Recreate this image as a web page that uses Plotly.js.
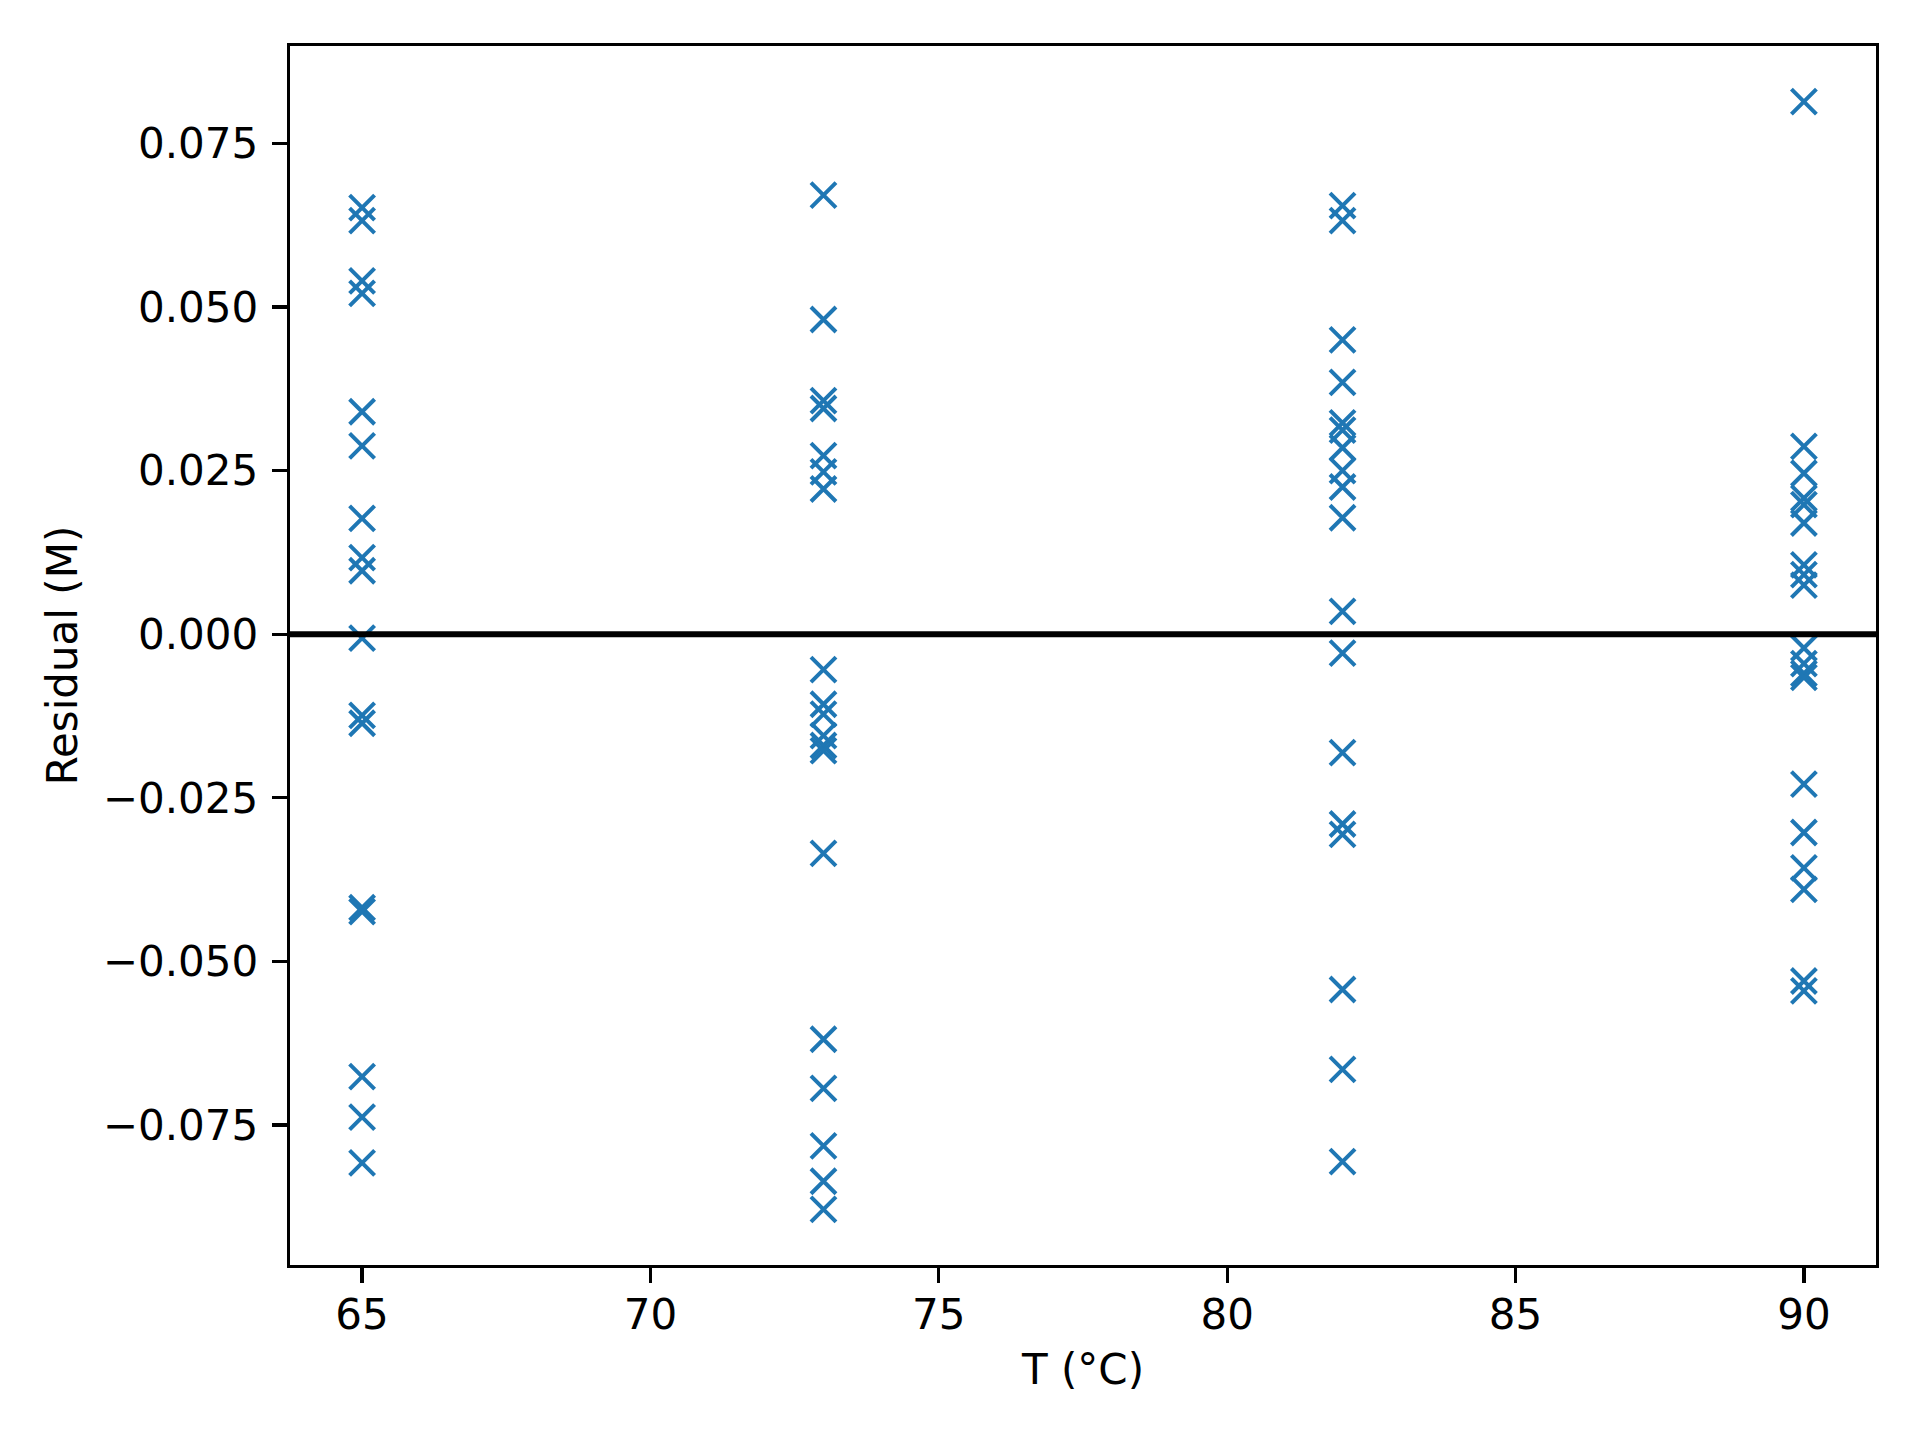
<!DOCTYPE html>
<html>
<head>
<meta charset="utf-8">
<script src="https://cdn.plot.ly/plotly-3.0.1.min.js"></script>
<style>
  html, body { margin: 0; padding: 0; background: #fff; }
</style>
</head>
<body>
<div id="chart"></div>
<script>
const temperatures = [65, 73, 82, 90]

const residuals65 = [0.0652, 0.0632, 0.0540, 0.0521, 0.0340, 0.0288, 0.0177, 0.0117, 0.0097, -0.0006,
  -0.0124, -0.0136, -0.0418, -0.0424, -0.0676, -0.0738, -0.0808]
const residuals73 = [0.0671, 0.0481, 0.0357, 0.0345, 0.0273, 0.0248, 0.0222, -0.0054, -0.0107, -0.0122,
  -0.0155, -0.0170, -0.0178, -0.0335, -0.0619, -0.0694, -0.0782, -0.0836, -0.0879]
const residuals82 = [0.0655, 0.0632, 0.0450, 0.0385, 0.0323, 0.0312, 0.0285, 0.0250, 0.0225, 0.0178,
  0.0035, -0.0029, -0.0181, -0.0290, -0.0306, -0.0543, -0.0665, -0.0806]
const residuals90 = [0.0814, 0.0287, 0.0246, 0.0208, 0.0198, 0.0170, 0.0106, 0.0091, 0.0075, -0.0021,
  -0.0045, -0.0060, -0.0066, -0.0229, -0.0303, -0.0357, -0.0390, -0.0530, -0.0545]

const xTickVals = [65, 70, 75, 80, 85, 90]
const xTickText = ['65', '70', '75', '80', '85', '90']
const yTickVals = [-0.075, -0.05, -0.025, 0, 0.025, 0.05, 0.075]
const yTickText = ['\u22120.075', '\u22120.050', '\u22120.025', '0.000', '0.025', '0.050', '0.075']

const baseline = 0

const residualsByTemp = [residuals65, residuals73, residuals82, residuals90]

function getPoints() {
  const x = []
  const y = []
  residualsByTemp.forEach((vals, idx) => {
    vals.forEach((v) => {
      x.push(temperatures[idx])
      y.push(v)
    })
  })
  return { x, y }
}

const font = { family: 'DejaVu Sans, sans-serif', size: 42, color: '#000' }

/* matplotlib-like axis */
const axisStyle = {
  showgrid: false,
  zeroline: false,
  showline: true,
  mirror: true,
  linecolor: '#000',
  linewidth: 3.3,
  ticks: 'outside',
  ticklen: 15,
  tickwidth: 3.3,
  tickcolor: '#000',
  tickfont: font,
  tickmode: 'array',
  automargin: false,
}

const pts = getPoints()

const trace = {
  x: pts.x,
  y: pts.y,
  mode: 'markers',
  type: 'scatter',
  marker: {
    symbol: 'x-thin-open',
    size: 25,
    color: '#1f77b4',
    line: { color: '#1f77b4', width: 4 },
  },
  hoverinfo: 'skip',
}

const layout = {
  width: 1920,
  height: 1440,
  margin: { l: 290, r: 44, t: 46, b: 175, autoexpand: false },
  paper_bgcolor: '#fff',
  plot_bgcolor: '#fff',
  showlegend: false,
  font: font,
  xaxis: Object.assign({}, axisStyle, {
    range: [63.75, 91.25],
    tickvals: xTickVals,
    ticktext: xTickText,
    ticklabelstandoff: -5,
    title: { text: 'T (\u00b0C)', font: font, standoff: 18 },
  }),
  yaxis: Object.assign({}, axisStyle, {
    range: [-0.0964, 0.0899],
    tickvals: yTickVals,
    ticktext: yTickText,
    ticklabelstandoff: 5,
    title: { text: 'Residual (M)', font: font, standoff: 13 },
  }),
  shapes: [
    {
      type: 'line',
      xref: 'paper', x0: 0, x1: 1,
      yref: 'y', y0: baseline, y1: baseline,
      line: { color: '#000', width: 6 },
      layer: 'above',
    },
  ],
}

Plotly.newPlot('chart', [trace], layout, { displayModeBar: false, staticPlot: true })
</script>
</body>
</html>
